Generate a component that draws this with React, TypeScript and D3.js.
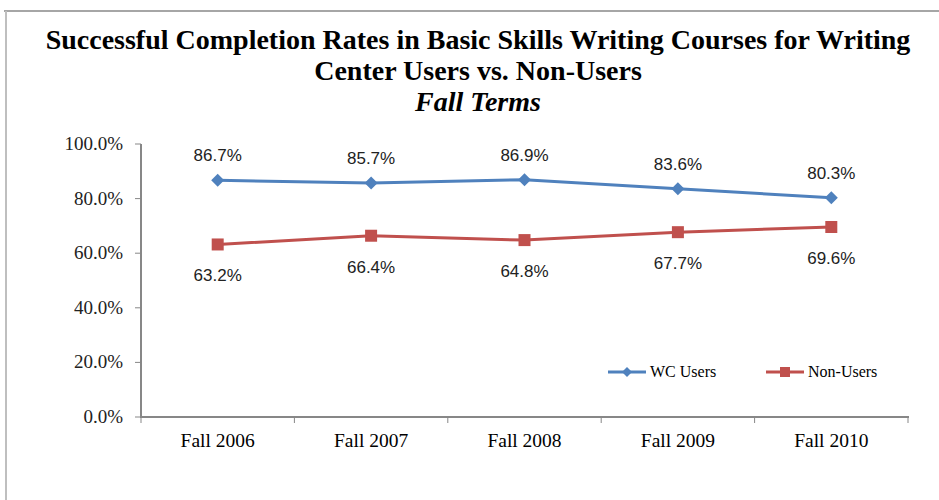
import React from "react";
import * as d3 from "d3";

const categories = ["Fall 2006", "Fall 2007", "Fall 2008", "Fall 2009", "Fall 2010"];
const wcUsers = [86.7, 85.7, 86.9, 83.6, 80.3];
const nonUsers = [63.2, 66.4, 64.8, 67.7, 69.6];
const yTicks = [0, 20, 40, 60, 80, 100];
const titleLines = ["Successful Completion Rates in Basic Skills Writing Courses for Writing", "Center Users vs. Non-Users"];
const subtitle = "Fall Terms";

const W = 939, H = 500;
const BLUE = "#4F81BD", RED = "#C0504D", AXIS = "#878787";

export default function App() {
  const x = d3.scaleBand<string>().domain(categories).range([141, 908]);
  const y = d3.scaleLinear().domain([0, 100]).range([417, 144]);
  const cx = (c: string) => (x(c) as number) + x.bandwidth() / 2;
  const line = d3.line<number>().x((_, i) => cx(categories[i])).y((v) => y(v));
  const sans = "'Liberation Sans', Arial, sans-serif";
  const serif = "'Liberation Serif', 'Times New Roman', serif";
  const boundaries = [...categories.map((c) => x(c) as number), 908];

  return (
    <svg width={W} height={H} style={{ position: "absolute", left: 0, top: 0, background: "#fff" }}>
      <rect x={0} y={0} width={W} height={H} fill="#fff" />
      {/* frame */}
      <line x1={4} y1={11} x2={W} y2={11} stroke="#a6a6a6" strokeWidth={2} />
      <line x1={6} y1={11} x2={6} y2={H} stroke="#bfbfbf" strokeWidth={2} />
      {/* title */}
      {titleLines.map((t, i) => (
        <text key={i} x={478} y={49 + i * 31} textAnchor="middle" fontFamily={serif} fontWeight="bold" fontSize={28} fill="#000">{t}</text>
      ))}
      <text x={478} y={111} textAnchor="middle" fontFamily={serif} fontWeight="bold" fontStyle="italic" fontSize={28} fill="#000">{subtitle}</text>
      {/* y axis */}
      <line x1={141} y1={144} x2={141} y2={418} stroke={AXIS} strokeWidth={2} />
      {yTicks.map((t) => (
        <g key={t}>
          <line x1={135} x2={141} y1={y(t)} y2={y(t)} stroke={AXIS} strokeWidth={1} />
          <text x={123} y={y(t) + 6} textAnchor="end" fontFamily={serif} fontSize={19} fill="#222">{t.toFixed(1)}%</text>
        </g>
      ))}
      {/* x axis */}
      <line x1={140} y1={417} x2={909} y2={417} stroke={AXIS} strokeWidth={2} />
      {boundaries.map((b, i) => (
        <line key={i} x1={b} x2={b} y1={417} y2={423} stroke={AXIS} strokeWidth={1} />
      ))}
      {categories.map((c) => (
        <text key={c} x={cx(c)} y={447} textAnchor="middle" fontFamily={serif} fontSize={19.5} fill="#000">{c}</text>
      ))}
      {/* lines */}
      <path d={line(wcUsers) || ""} fill="none" stroke={BLUE} strokeWidth={3} />
      <path d={line(nonUsers) || ""} fill="none" stroke={RED} strokeWidth={3} />
      {wcUsers.map((v, i) => {
        const px = cx(categories[i]), py = y(v);
        return (
          <g key={"w" + i}>
            <path d={`M${px},${py - 6.5}L${px + 6.5},${py}L${px},${py + 6.5}L${px - 6.5},${py}Z`} fill={BLUE} />
            <text x={px} y={py - 19} textAnchor="middle" fontFamily={sans} fontSize={17} fill="#222">{v.toFixed(1)}%</text>
          </g>
        );
      })}
      {nonUsers.map((v, i) => {
        const px = cx(categories[i]), py = y(v);
        return (
          <g key={"n" + i}>
            <rect x={px - 6} y={py - 6} width={12} height={12} fill={RED} />
            <text x={px} y={py + 37} textAnchor="middle" fontFamily={sans} fontSize={17} fill="#222">{v.toFixed(1)}%</text>
          </g>
        );
      })}
      {/* legend */}
      <g>
        <line x1={608} x2={646} y1={372} y2={372} stroke={BLUE} strokeWidth={3} />
        <path d="M627,367L632,372L627,377L622,372Z" fill={BLUE} />
        <text x={650} y={377} fontFamily={serif} fontSize={16} fill="#000">WC Users</text>
        <line x1={766} x2={804} y1={372} y2={372} stroke={RED} strokeWidth={3} />
        <rect x={780} y={367} width={10} height={10} fill={RED} />
        <text x={808} y={377} fontFamily={serif} fontSize={16} fill="#000">Non-Users</text>
      </g>
    </svg>
  );
}
